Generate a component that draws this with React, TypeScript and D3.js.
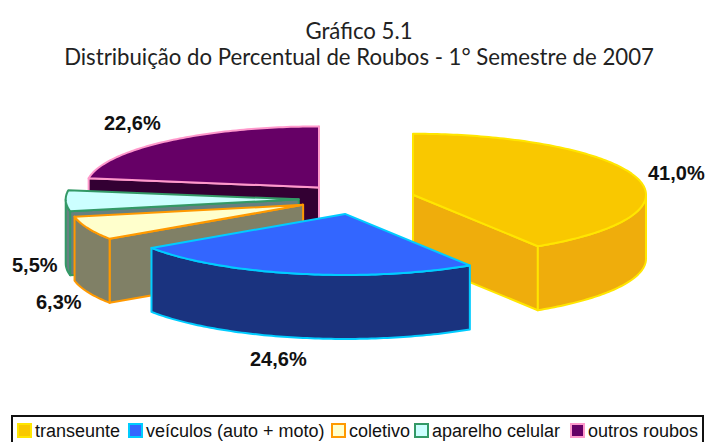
import React from 'react';
import * as d3 from 'd3';

const categories = ['transeunte', 'veículos (auto + moto)', 'coletivo', 'aparelho celular', 'outros roubos'];
const values = [41.0, 24.6, 6.3, 5.5, 22.6];
const valueLabels = ['41,0%', '24,6%', '6,3%', '5,5%', '22,6%'];
const topColors = ['#f9c800', '#3366ff', '#ffffcc', '#ccffff', '#660066'];
const wallColors = ['#efad0c', '#1a337f', '#808066', '#668080', '#330033'];
const borderColors = ['#ffe600', '#00ccff', '#ff9900', '#339966', '#ff99cc'];
const titleLines = ['Gráfico 5.1', 'Distribuição do Percentual de Roubos - 1° Semestre de 2007'];
const drawOrder = [4, 3, 2, 0, 1];
const labelPos = [[648, 180], [250, 366], [36, 309], [12, 272], [104, 130]];
const legendX = [18, 129, 332, 415, 571];

const width = 708;
const height = 442;
const cx = 357;
const cy = 199;
const rx = 233;
const ry = 61;
const depth = 64;
const explode = 58.3;
const slices = d3.pie<number>().sort(null)(values);

const point = (c: number[], a: number, dy = 0) => [c[0] + rx * Math.sin(a), c[1] - ry * Math.cos(a) + dy];

const line = d3.line();

// outline of the arc from a0 to a1, one step per degree
const arcPoints = (c: number[], a0: number, a1: number, dy = 0) => {
  const n = Math.max(2, Math.ceil(((a1 - a0) * 180) / Math.PI));
  return d3.range(n + 1).map(i => point(c, a0 + ((a1 - a0) * i) / n, dy));
};

const Slice = ({ i }: { i: number }) => {
  const s = slices[i];
  const a0 = s.startAngle;
  const a1 = s.endAngle;
  const mid = (a0 + a1) / 2;
  const c = [cx + explode * Math.sin(mid), cy - (explode * ry * Math.cos(mid)) / rx];
  const common = { stroke: borderColors[i], strokeWidth: 2, strokeLinejoin: 'round' as const };
  const radial = (a: number) => {
    const p = point(c, a);
    return line([c, p, [p[0], p[1] + depth], [c[0], c[1] + depth]] as [number, number][]) + 'Z';
  };
  // the rim only shows on the front half of the ellipse
  const r0 = Math.max(a0, Math.PI / 2);
  const r1 = Math.min(a1, (3 * Math.PI) / 2);
  const rim = r1 > r0 ? [...arcPoints(c, r0, r1), ...arcPoints(c, r0, r1, depth).reverse()] : null;
  const top = [c, ...arcPoints(c, a0, a1)];
  return (
    <g>
      {Math.sin(a0) < 0 && <path d={radial(a0)} fill={wallColors[i]} {...common} />}
      {Math.sin(a1) > 0 && <path d={radial(a1)} fill={wallColors[i]} {...common} />}
      {rim && <path d={line(rim as [number, number][]) + 'Z'} fill={wallColors[i]} {...common} />}
      <path d={line(top as [number, number][]) + 'Z'} fill={topColors[i]} {...common} />
    </g>
  );
};

export default function App() {
  return (
    <svg width={width} height={height} style={{ position: 'fixed', left: 0, top: 0, background: '#fff' }}>
      {titleLines.map((t, i) => (
        <text key={t} x={359} y={39 + i * 26} textAnchor="middle" fontFamily="Lato" fontSize={22.2} fill="#222">{t}</text>
      ))}
      {drawOrder.map(i => <Slice key={i} i={i} />)}
      {valueLabels.map((t, i) => (
        <text key={t} x={labelPos[i][0]} y={labelPos[i][1]} fontFamily="Liberation Sans" fontWeight="bold" fontSize={20} fill="#111">{t}</text>
      ))}
      <rect x={12} y={416} width={691} height={30} fill="#fff" stroke="#111" strokeWidth={2} />
      {categories.map((t, i) => (
        <g key={t}>
          <rect x={legendX[i]} y={424} width={13} height={13} fill={topColors[i]} stroke={borderColors[i]} strokeWidth={2} />
          <text x={legendX[i] + 17} y={437} fontFamily="Liberation Sans" fontSize={18} fill="#111">{t}</text>
        </g>
      ))}
    </svg>
  );
}
